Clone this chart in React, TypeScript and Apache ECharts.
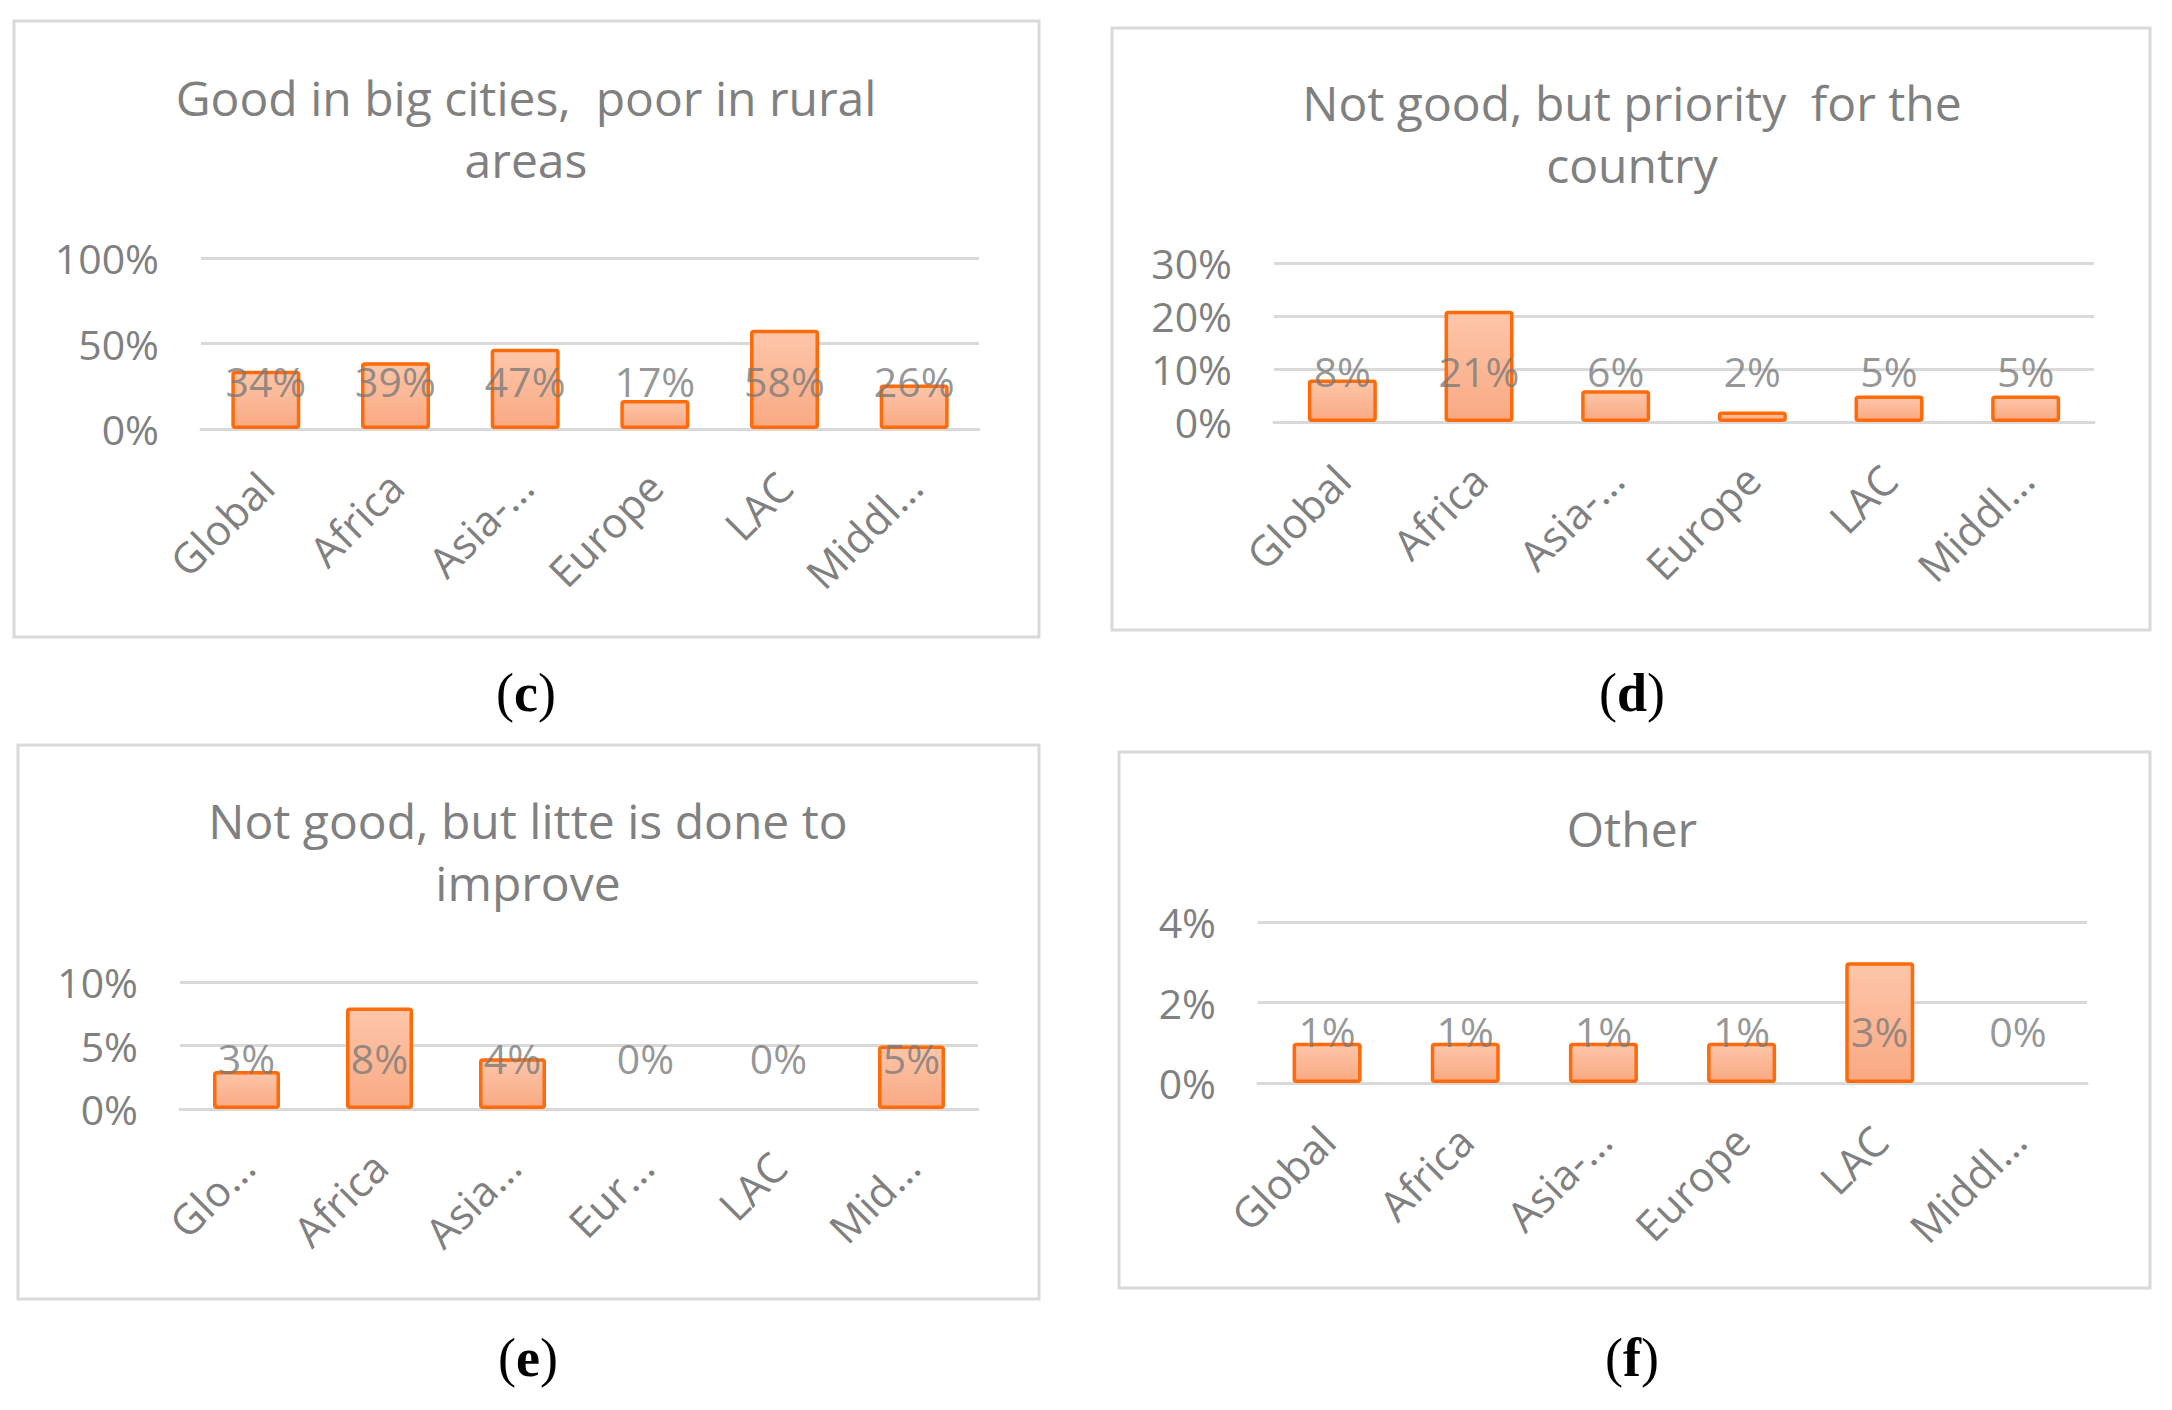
import React, { useEffect, useRef } from "react";
import * as echarts from "echarts";

// ---- data ----
const regions = ["Global", "Africa", "Asia-Pacific", "Europe", "LAC", "Middle East"];
const tickLabelsWide = ["Global", "Africa", "Asia-...", "Europe", "LAC", "Middl..."];
const tickLabelsNarrow = ["Glo...", "Africa", "Asia...", "Eur...", "LAC", "Mid..."];

const goodInCities = [34, 39, 47, 17, 58, 26];
const priorityForCountry = [8, 21, 6, 2, 5, 5];
const littleIsDone = [3, 8, 4, 0, 0, 5];
const otherAnswers = [1, 1, 1, 1, 3, 0];

const titleC = "Good in big cities,  poor in rural\nareas";
const titleD = "Not good, but priority  for the\ncountry";
const titleE = "Not good, but litte is done to\nimprove";
const titleF = "Other";

// ---- styling / layout ----
const FONT = "'Open Sans', 'Liberation Sans', sans-serif";
const SERIF = "'Liberation Serif', 'DejaVu Serif', serif";
const GREY = "#808080";
const LINE = "#d9d9d9";

const panels = [
  {
    values: goodInCities, ticks: tickLabelsWide, title: titleC, letter: "c",
    max: 100, interval: 50, labelLevel: 28,
    grid: { left: 201, top: 258, width: 778, height: 171 },
    box: { x: 14, y: 21, width: 1025, height: 616 },
    titleX: 526, titleTop: 66, letterY: 693, barWidth: 69,
  },
  {
    values: priorityForCountry, ticks: tickLabelsWide, title: titleD, letter: "d",
    max: 30, interval: 10, labelLevel: 9.6,
    grid: { left: 1274, top: 263, width: 820, height: 159 },
    box: { x: 1112, y: 28, width: 1038, height: 602 },
    titleX: 1632, titleTop: 71, letterY: 693, barWidth: 69,
  },
  {
    values: littleIsDone, ticks: tickLabelsNarrow, title: titleE, letter: "e",
    max: 10, interval: 5, labelLevel: 4.0,
    grid: { left: 180, top: 982, width: 798, height: 127 },
    box: { x: 18, y: 745, width: 1021, height: 554 },
    titleX: 528, titleTop: 789, letterY: 1358, barWidth: 67,
  },
  {
    values: otherAnswers, ticks: tickLabelsWide, title: titleF, letter: "f",
    max: 4, interval: 2, labelLevel: 1.3,
    grid: { left: 1258, top: 922, width: 829, height: 161 },
    box: { x: 1119, y: 752, width: 1031, height: 536 },
    titleX: 1632, titleTop: 797, letterY: 1358, barWidth: 69,
  },
];

function buildOption() {
  const barFill = new echarts.graphic.LinearGradient(0, 0, 0, 1, [
    { offset: 0, color: "#FDC6A9" },
    { offset: 1, color: "#F9A983" },
  ]);
  return {
    animation: false,
    backgroundColor: "#ffffff",
    title: panels.map((p) => ({
      text: p.title,
      left: p.titleX,
      top: p.titleTop,
      textAlign: "center",
      padding: 0,
      textStyle: {
        fontFamily: FONT,
        fontSize: 48,
        fontWeight: "normal",
        color: GREY,
        lineHeight: 62,
      },
    })),
    grid: panels.map((p) => ({ ...p.grid })),
    xAxis: panels.map((p, i) => ({
      type: "category",
      gridIndex: i,
      data: regions,
      axisLine: { show: true, lineStyle: { color: LINE, width: 3 } },
      axisTick: { show: false },
      axisLabel: {
        interval: 0,
        rotate: 45,
        margin: 50,
        fontFamily: FONT,
        fontSize: 42,
        color: GREY,
        formatter: (_v: string, idx: number) => p.ticks[idx],
      },
    })),
    yAxis: panels.map((p, i) => ({
      type: "value",
      gridIndex: i,
      min: 0,
      max: p.max,
      interval: p.interval,
      axisLine: { show: false },
      axisTick: { show: false },
      splitLine: { show: true, lineStyle: { color: LINE, width: 3 } },
      axisLabel: {
        margin: 42,
        fontFamily: FONT,
        fontSize: 41,
        color: GREY,
        formatter: "{value}%",
      },
    })),
    series: [
      ...panels.map((p, i) => ({
        type: "bar",
        xAxisIndex: i,
        yAxisIndex: i,
        barWidth: p.barWidth,
        silent: true,
        itemStyle: {
          color: barFill,
          borderColor: "#FF6A0A",
          borderWidth: 3.5,
          borderRadius: 2,
        },
        data: p.values.map((v) =>
          v === 0 ? { value: 0, itemStyle: { borderWidth: 0 } } : v
        ),
        z: 2,
      })),
      ...panels.map((p, i) => ({
        type: "scatter",
        xAxisIndex: i,
        yAxisIndex: i,
        symbolSize: 0,
        silent: true,
        data: p.values.map((_v, idx) => [idx, p.labelLevel]),
        label: {
          show: true,
          position: "inside",
          fontFamily: FONT,
          fontSize: 41,
          color: "#7a7a7a",
          formatter: (params: any) => p.values[params.dataIndex] + "%",
        },
        z: 5,
      })),
    ],
    graphic: [
      ...panels.map((p) => ({
        type: "rect",
        silent: true,
        shape: { ...p.box },
        style: { fill: "none", stroke: LINE, lineWidth: 3 },
        z: 0,
      })),
      ...panels.map((p) => ({
        type: "text",
        silent: true,
        x: p.titleX,
        y: p.letterY,
        style: {
          text: "{p|(}{b|" + p.letter + "}{p|)}",
          align: "center",
          verticalAlign: "middle",
          fontWeight: "normal",
          rich: {
            p: { fontFamily: SERIF, fontSize: 54, fontWeight: "normal", color: "#000" },
            b: { fontFamily: SERIF, fontSize: 54, fontWeight: "bold", color: "#000" },
          },
        },
      })),
    ],
  };
}

export default function App() {
  const ref = useRef<HTMLDivElement>(null);
  useEffect(() => {
    if (!ref.current) return;
    const chart = echarts.init(ref.current, undefined, { renderer: "svg" });
    chart.setOption(buildOption() as any);
    return () => chart.dispose();
  }, []);
  return (
    <div
      ref={ref}
      style={{ position: "absolute", left: 0, top: 0, width: 2172, height: 1410, background: "#fff" }}
    />
  );
}
